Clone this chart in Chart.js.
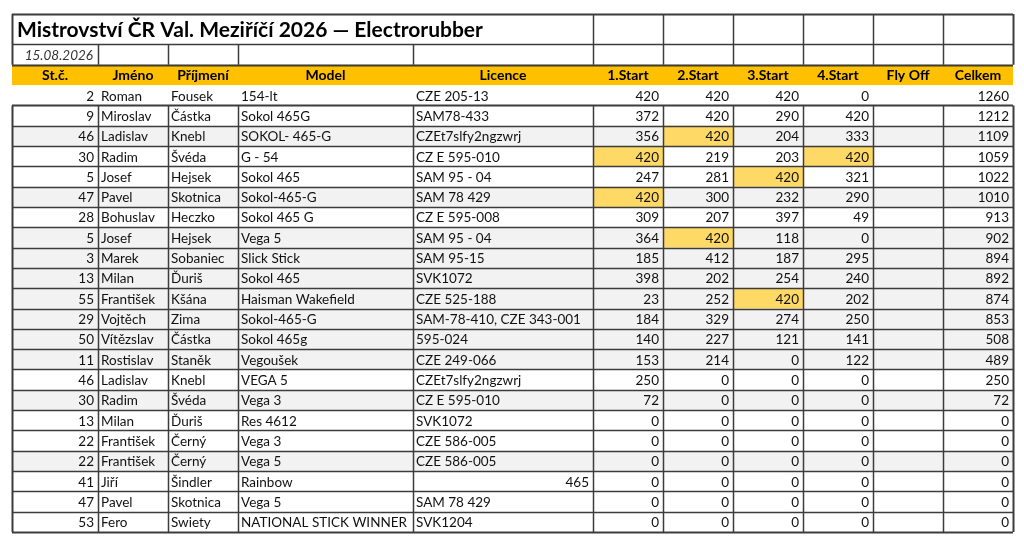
<!DOCTYPE html>
<html>
<head>
<meta charset="utf-8">
<script src="https://cdn.jsdelivr.net/npm/chart.js@4.4.1/dist/chart.umd.min.js"></script>
<style>
  html, body { margin: 0; padding: 0; background: #fff; }
  canvas { display: block; }
</style>
</head>
<body>
<canvas id="resultsTable" width="1024" height="547"></canvas>
<script>
// Table content
const title = 'Mistrovství ČR Val. Meziříčí 2026 — Electrorubber';
const eventDate = '15.08.2026';
const headers = ['St.č.', 'Jméno', 'Příjmení', 'Model', 'Licence', '1.Start', '2.Start', '3.Start', '4.Start', 'Fly Off', 'Celkem'];

const startNo = [2, 9, 46, 30, 5, 47, 28, 5, 3, 13, 55, 29, 50, 11, 46, 30, 13, 22, 22, 41, 47, 53];
const firstNames = ['Roman', 'Miroslav', 'Ladislav', 'Radim', 'Josef', 'Pavel', 'Bohuslav', 'Josef', 'Marek', 'Milan',
    'František', 'Vojtěch', 'Vítězslav', 'Rostislav', 'Ladislav', 'Radim', 'Milan', 'František', 'František', 'Jiří', 'Pavel', 'Fero'];
const lastNames = ['Fousek', 'Částka', 'Knebl', 'Švéda', 'Hejsek', 'Skotnica', 'Heczko', 'Hejsek', 'Sobaniec', 'Ďuriš',
    'Kšána', 'Zima', 'Částka', 'Staněk', 'Knebl', 'Švéda', 'Ďuriš', 'Černý', 'Černý', 'Šindler', 'Skotnica', 'Swiety'];
const models = ['154-lt', 'Sokol 465G', 'SOKOL- 465-G', 'G - 54', 'Sokol 465', 'Sokol-465-G', 'Sokol 465 G', 'Vega 5',
    'Slick Stick', 'Sokol 465', 'Haisman Wakefield', 'Sokol-465-G', 'Sokol 465g', 'Vegoušek', 'VEGA 5', 'Vega 3',
    'Res 4612', 'Vega 3', 'Vega 5', 'Rainbow', 'Vega 5', 'NATIONAL STICK WINNER'];
const licences = ['CZE 205-13', 'SAM78-433', 'CZEt7slfy2ngzwrj', 'CZ E 595-010', 'SAM 95 - 04', 'SAM 78 429',
    'CZ E 595-008', 'SAM 95 - 04', 'SAM 95-15', 'SVK1072', 'CZE 525-188', 'SAM-78-410, CZE 343-001', '595-024',
    'CZE 249-066', 'CZEt7slfy2ngzwrj', 'CZ E 595-010', 'SVK1072', 'CZE 586-005', 'CZE 586-005', 465, 'SAM 78 429', 'SVK1204'];

const start1 = [420, 372, 356, 420, 247, 420, 309, 364, 185, 398, 23, 184, 140, 153, 250, 72, 0, 0, 0, 0, 0, 0];
const start2 = [420, 420, 420, 219, 281, 300, 207, 420, 412, 202, 252, 329, 227, 214, 0, 0, 0, 0, 0, 0, 0, 0];
const start3 = [420, 290, 204, 203, 420, 232, 397, 118, 187, 254, 420, 274, 121, 0, 0, 0, 0, 0, 0, 0, 0, 0];
const start4 = [0, 420, 333, 420, 321, 290, 49, 0, 295, 240, 202, 250, 141, 122, 0, 0, 0, 0, 0, 0, 0, 0];
const totals = [1260, 1212, 1109, 1059, 1022, 1010, 913, 902, 894, 892, 874, 853, 508, 489, 250, 72, 0, 0, 0, 0, 0, 0];

// [row, start index] of the highlighted (max score) cells
const bestCells = [[2, 1], [3, 0], [3, 3], [4, 2], [5, 0], [7, 1], [10, 2]];
// rows with grey background
const greyRows = [2, 5, 7, 8, 9, 10, 11, 12, 13, 15, 18];

// Layout (table units on the x scale, row units on the y scale)
const colEdges = [0, 86, 156, 226, 401, 581, 651, 721, 791, 861, 931, 1001];
const TITLE_H = 1.5, DATE_H = 1, HEAD_H = 1;
const DATA_TOP = TITLE_H + DATE_H + HEAD_H;
const TABLE_H = DATA_TOP + startNo.length;

const FONT = 'Lato, "Open Sans", sans-serif';
const TEXT = '#111';
const LINE = '#3c3c3c';

const scoreCols = [start1, start2, start3, start4, null, totals];

// one scatter dataset per numeric column, point sits at the right edge of its cell
const datasets = scoreCols.map((col, k) => ({
    label: headers[5 + k],
    data: col ? col.map((v, i) => ({ x: colEdges[6 + k], y: DATA_TOP + i + 0.5, v: v })) : [],
    pointRadius: 0,
    pointHoverRadius: 0
})).filter(d => d.data.length);

const tablePlugin = {
    id: 'tablePlugin',
    beforeDatasetsDraw(chart) {
        const ctx = chart.ctx;
        const px = v => chart.scales.x.getPixelForValue(v);
        const py = v => chart.scales.y.getPixelForValue(v);
        const rect = (x0, y0, x1, y1, color) => {
            ctx.fillStyle = color;
            ctx.fillRect(px(x0), py(y0), px(x1) - px(x0), py(y1) - py(y0));
        };
        const hLine = (x0, x1, yv, w) => {
            ctx.lineWidth = w;
            ctx.beginPath();
            ctx.moveTo(px(x0), Math.round(py(yv)) + 0.5);
            ctx.lineTo(px(x1), Math.round(py(yv)) + 0.5);
            ctx.stroke();
        };
        const vLine = (xv, y0, y1, w) => {
            ctx.lineWidth = w;
            ctx.beginPath();
            ctx.moveTo(Math.round(px(xv)) + 0.5, py(y0));
            ctx.lineTo(Math.round(px(xv)) + 0.5, py(y1));
            ctx.stroke();
        };
        const last = colEdges[colEdges.length - 1];

        ctx.save();
        // header band
        rect(0, TITLE_H + DATE_H, last, DATA_TOP, '#FFC000');
        // grey rows
        greyRows.forEach(r => rect(0, DATA_TOP + r, last, DATA_TOP + r + 1, '#F2F2F2'));
        // best scores
        bestCells.forEach(([r, c]) => rect(colEdges[5 + c], DATA_TOP + r, colEdges[6 + c], DATA_TOP + r + 1, '#FFD966'));

        ctx.strokeStyle = LINE;
        // title + date block
        hLine(0, last, 0, 2);
        hLine(0, last, TITLE_H, 1.5);
        hLine(0, last, TITLE_H + DATE_H, 2);
        colEdges.forEach((e, i) => {
            if (i === 0 || i === colEdges.length - 1) vLine(e, 0, TITLE_H + DATE_H, 2);
            else if (i >= 5) vLine(e, 0, TITLE_H + DATE_H, 1.5);
            else vLine(e, TITLE_H, TITLE_H + DATE_H, 1.5);
        });
        // data block (first row has no borders)
        const gTop = DATA_TOP + 1;
        for (let r = 1; r <= startNo.length; r++) {
            const yv = DATA_TOP + r;
            hLine(0, last, yv, (r === 1 || r === startNo.length) ? 2 : 1.5);
        }
        colEdges.forEach((e, i) => {
            const w = (i === 0 || i === colEdges.length - 1) ? 2 : 1.5;
            vLine(e, gTop, TABLE_H, w);
        });
        ctx.restore();
    },
    afterDatasetsDraw(chart) {
        const ctx = chart.ctx;
        const px = v => chart.scales.x.getPixelForValue(v);
        const py = v => chart.scales.y.getPixelForValue(v);
        ctx.save();
        ctx.textBaseline = 'middle';
        ctx.fillStyle = TEXT;

        // title
        ctx.font = 'bold 21px ' + FONT;
        ctx.textAlign = 'left';
        ctx.fillStyle = '#000';
        ctx.fillText(title, px(0) + 5, py(TITLE_H / 2) + 1);

        // date
        ctx.font = 'italic 13.5px ' + FONT;
        ctx.textAlign = 'right';
        ctx.fillStyle = '#333';
        ctx.fillText(eventDate, px(colEdges[1]) - 5, py(TITLE_H + DATE_H / 2) + 1);

        // headers
        ctx.font = 'bold 14px ' + FONT;
        ctx.textAlign = 'center';
        ctx.fillStyle = '#000';
        headers.forEach((h, i) => {
            ctx.fillText(h, (px(colEdges[i]) + px(colEdges[i + 1])) / 2, py(TITLE_H + DATE_H + HEAD_H / 2) + 1);
        });

        // text columns
        ctx.font = '13.5px ' + FONT;
        ctx.fillStyle = TEXT;
        const textCols = [startNo, firstNames, lastNames, models, licences];
        textCols.forEach((col, c) => {
            col.forEach((v, i) => {
                const yc = py(DATA_TOP + i + 0.5) + 1;
                if (typeof v === 'number') {
                    ctx.textAlign = 'right';
                    ctx.fillText(String(v), px(colEdges[c + 1]) - 4, yc);
                } else {
                    ctx.textAlign = 'left';
                    ctx.fillText(v, px(colEdges[c]) + 3, yc);
                }
            });
        });

        // score columns from the dataset points
        ctx.textAlign = 'right';
        chart.data.datasets.forEach((ds, d) => {
            chart.getDatasetMeta(d).data.forEach((el, j) => {
                ctx.fillText(String(ds.data[j].v), el.x - 4, el.y + 1);
            });
        });
        ctx.restore();
    }
};

new Chart(document.getElementById('resultsTable'), {
    type: 'scatter',
    data: { datasets: datasets },
    options: {
        responsive: false,
        animation: false,
        devicePixelRatio: 1,
        layout: { padding: { left: 12, right: 11, top: 14, bottom: 15 } },
        plugins: { legend: { display: false }, tooltip: { enabled: false } },
        events: [],
        scales: {
            x: { type: 'linear', display: false, min: 0, max: colEdges[colEdges.length - 1] },
            y: { type: 'linear', display: false, min: 0, max: TABLE_H, reverse: true }
        }
    },
    plugins: [tablePlugin]
});
</script>
</body>
</html>
